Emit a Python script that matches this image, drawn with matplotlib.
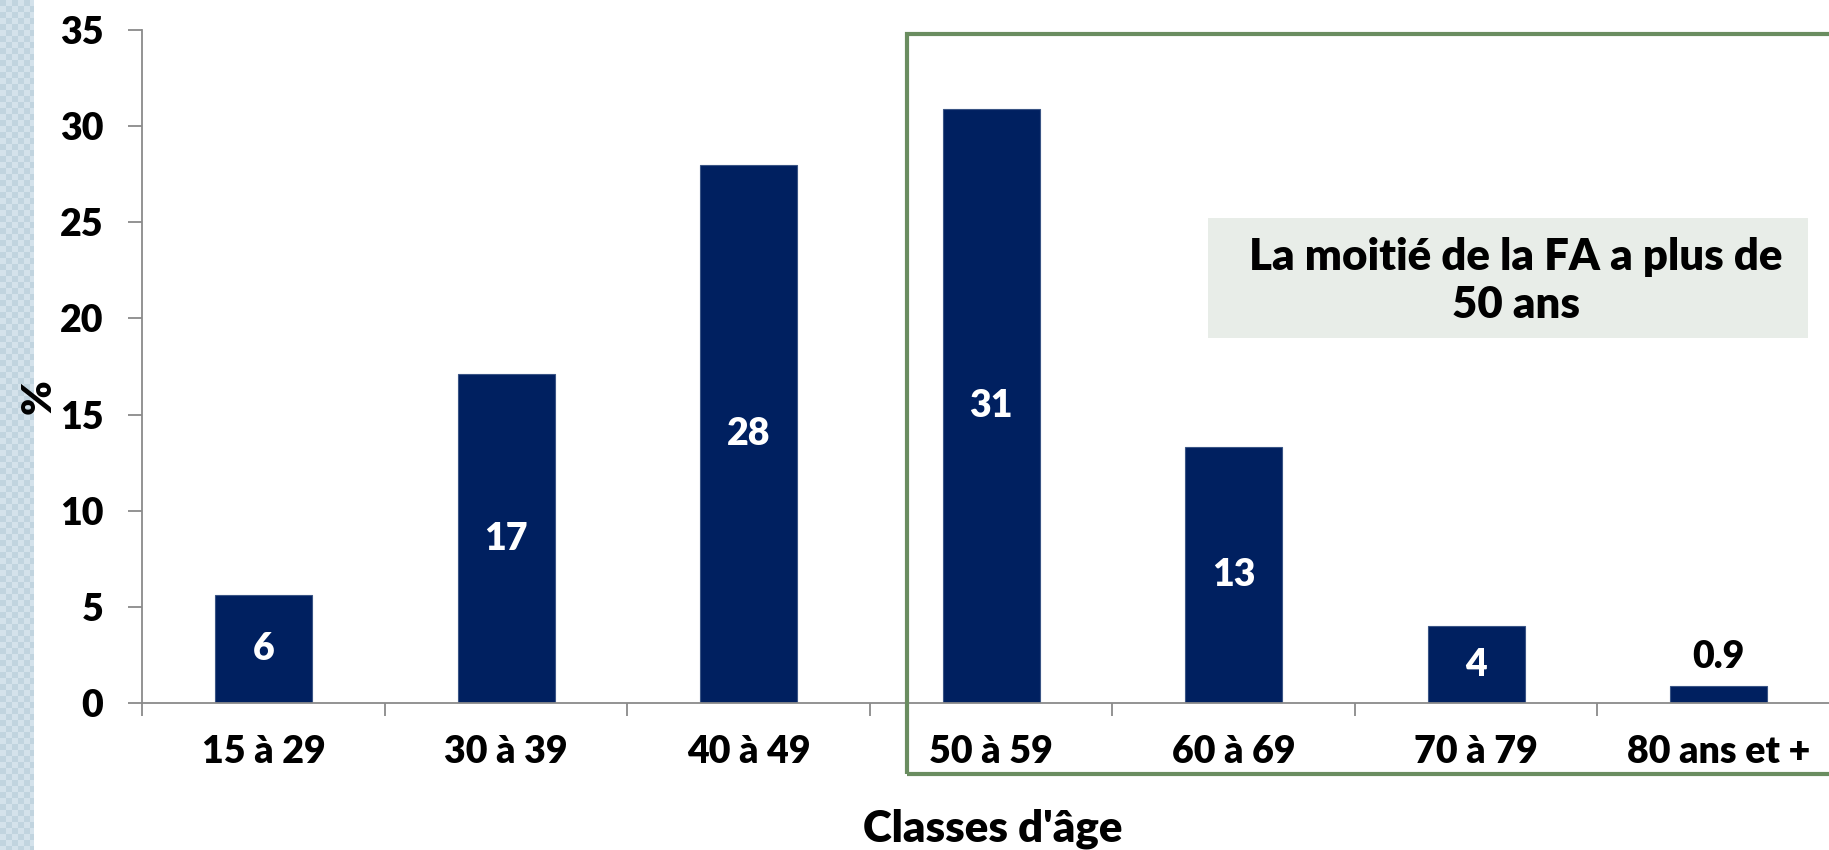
import numpy as np
import matplotlib
matplotlib.use("Agg")
import matplotlib.pyplot as plt
from matplotlib.patches import Rectangle

# Age distribution (%)
categories = ["15 à 29", "30 à 39", "40 à 49", "50 à 59", "60 à 69", "70 à 79", "80 ans et +"]
shares = [5.6, 17.1, 28.0, 30.9, 13.3, 4.0, 0.9]
y_ticks = [0, 5, 10, 15, 20, 25, 30, 35]

plt.rcParams["font.family"] = ["Lato", "DejaVu Sans"]
WEIGHT = "heavy"
plt.rcParams["font.weight"] = WEIGHT

W, H = 1829, 850
fig = plt.figure(figsize=(W / 100, H / 100), dpi=100)
fig.patch.set_facecolor("white")

# decorative patterned strip on the left edge
strip_w = 34
yy, xx = np.mgrid[0:H, 0:strip_w]
base = np.array([0.757, 0.835, 0.878])
light = np.array([0.835, 0.890, 0.922])
cell = ((xx // 6) + (yy // 6)) % 2
pattern = np.where(cell[..., None] == 0, base, light)
fig.figimage(pattern, xo=0, yo=0, origin="upper", zorder=0)

def fx(px):
    return px / W

def fy(py):
    return 1 - py / H

axis_gray = "#8a8a8a"
navy = "#002060"

ax = fig.add_axes([fx(142.3), fy(703), fx(1840) - fx(142.3), fy(30) - fy(703)])
ax.set_facecolor("none")

x = np.arange(len(categories))
bars = ax.bar(x, shares, width=0.4, color=navy, edgecolor="#3a5585", linewidth=0.8, zorder=2)

ax.set_xlim(-0.5, len(categories) - 0.5)
ax.set_ylim(0, 35)

for side in ("top", "right"):
    ax.spines[side].set_visible(False)
for side in ("left", "bottom"):
    ax.spines[side].set_color(axis_gray)
    ax.spines[side].set_linewidth(1.3)

ax.set_yticks(y_ticks)
ax.set_yticklabels([str(t) for t in y_ticks])
ax.tick_params(axis="y", direction="out", length=10, width=1.3, color=axis_gray,
               pad=18, labelsize=27, labelcolor="black")

# boundary ticks between categories, labels at the centres
ax.set_xticks(np.arange(-0.5, len(categories), 1.0))
ax.set_xticklabels([])
ax.tick_params(axis="x", which="major", direction="out", length=9, width=1.3, color=axis_gray)
ax.set_xticks(x, minor=True)
ax.set_xticklabels(categories, minor=True)
ax.tick_params(axis="x", which="minor", length=0, pad=23, labelsize=27, labelcolor="black")
for lab in ax.get_xticklabels(minor=True) + ax.get_yticklabels():
    lab.set_fontweight(WEIGHT)

for xi, v in zip(x, shares):
    if v >= 1:
        ax.text(xi, v / 2, f"{v:.0f}", ha="center", va="center", color="white",
                fontsize=27, fontweight=WEIGHT, zorder=3)
    else:
        ax.text(xi, v + 0.6, f"{v:.1f}", ha="center", va="bottom", color="black",
                fontsize=27, fontweight=WEIGHT, zorder=3)

fig.text(fx(39), fy(397), "%", rotation=90, ha="center", va="center",
         fontsize=30, fontweight=WEIGHT)
fig.text(fx(993), fy(829), "Classes d'âge", ha="center", va="center",
         fontsize=31.5, fontweight=WEIGHT)

# highlight frame around the 50+ age groups
frame = Rectangle((fx(907), fy(774)), 1.02 - fx(907), fy(34) - fy(774),
                  transform=fig.transFigure, fill=False, edgecolor="#6a8d60",
                  linewidth=3, zorder=5)
fig.add_artist(frame)

note_box = Rectangle((fx(1208), fy(338)), fx(1808) - fx(1208), fy(218) - fy(338),
                     transform=fig.transFigure, facecolor="#e8ede8", edgecolor="none",
                     zorder=5)
fig.add_artist(note_box)
fig.text(fx(1516), fy(281), "La moitié de la FA a plus de\n50 ans", ha="center", va="center",
         fontsize=31.5, fontweight=WEIGHT, linespacing=1.22, zorder=6)

fig.savefig("out.png", dpi=100)
